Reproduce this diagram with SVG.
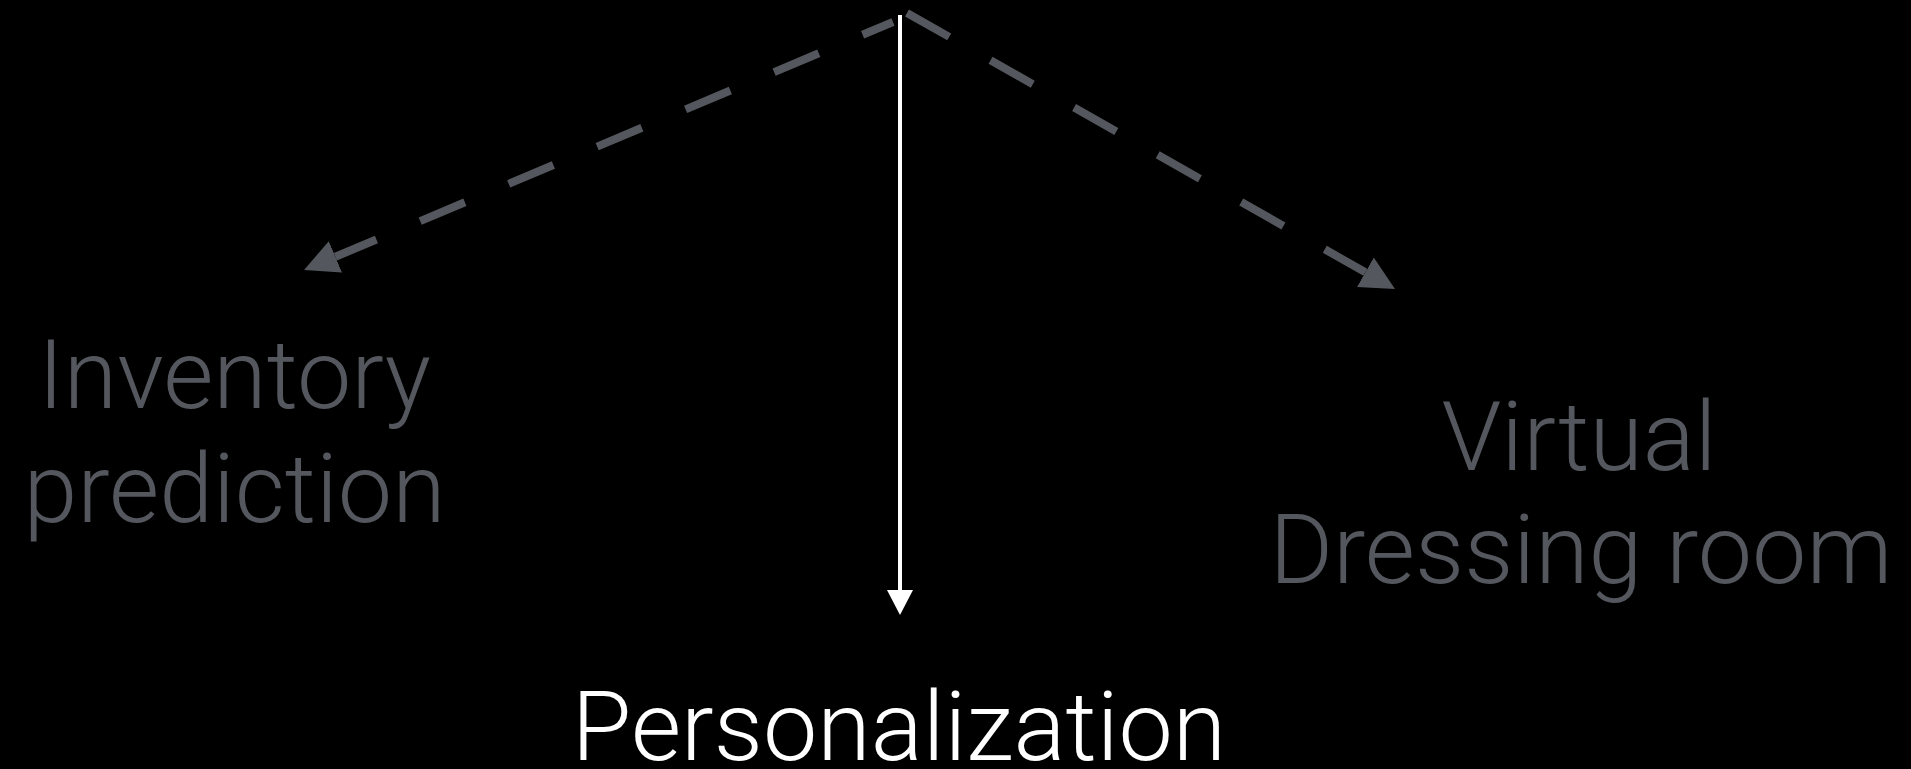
<svg xmlns="http://www.w3.org/2000/svg" width="1911" height="769" viewBox="0 0 1911 769">
<style>
.lbl{font-family:"Helvetica Neue",Roboto,"Liberation Sans",sans-serif;font-weight:300;font-size:97px;text-anchor:middle}
.gray{fill:#54585e}
.white{fill:#ffffff}
.dash{stroke:#54585e;stroke-width:8;fill:none;stroke-dasharray:48.5 47.5}
</style>
<defs>
<marker id="ah" viewBox="0 0 34 34" refX="0" refY="17" markerWidth="34" markerHeight="34" orient="auto" markerUnits="userSpaceOnUse">
<path d="M0,0 L34,17 L0,34 z" fill="#54585e"/>
</marker>
<marker id="aw" viewBox="0 0 25 26" refX="0" refY="13" markerWidth="25" markerHeight="26" orient="auto" markerUnits="userSpaceOnUse">
<path d="M0,0 L25,13 L0,26 z" fill="#ffffff"/>
</marker>
</defs>
<rect width="1911" height="769" fill="#000"/>
<g id="connectors">
<line class="dash" x1="893" y1="22" x2="335.4" y2="256.8" stroke-dashoffset="15.5" marker-end="url(#ah)"/>
<line class="dash" x1="907" y1="13" x2="1365.4" y2="272.3" marker-end="url(#ah)"/>
<line x1="900" y1="15" x2="900" y2="590" stroke="#ffffff" stroke-width="4" marker-end="url(#aw)"/>
</g>
<g id="inventory">
<text class="lbl gray" x="234.5" y="408">Inventory</text>
<text class="lbl gray" x="234.5" y="522">prediction</text>
</g>
<g id="virtual">
<text class="lbl gray" x="1579" y="470">Virtual</text>
<text class="lbl gray" x="1581" y="583">Dressing room</text>
</g>
<g id="personalization">
<text class="lbl white" x="899" y="760">Personalization</text>
</g>
</svg>
